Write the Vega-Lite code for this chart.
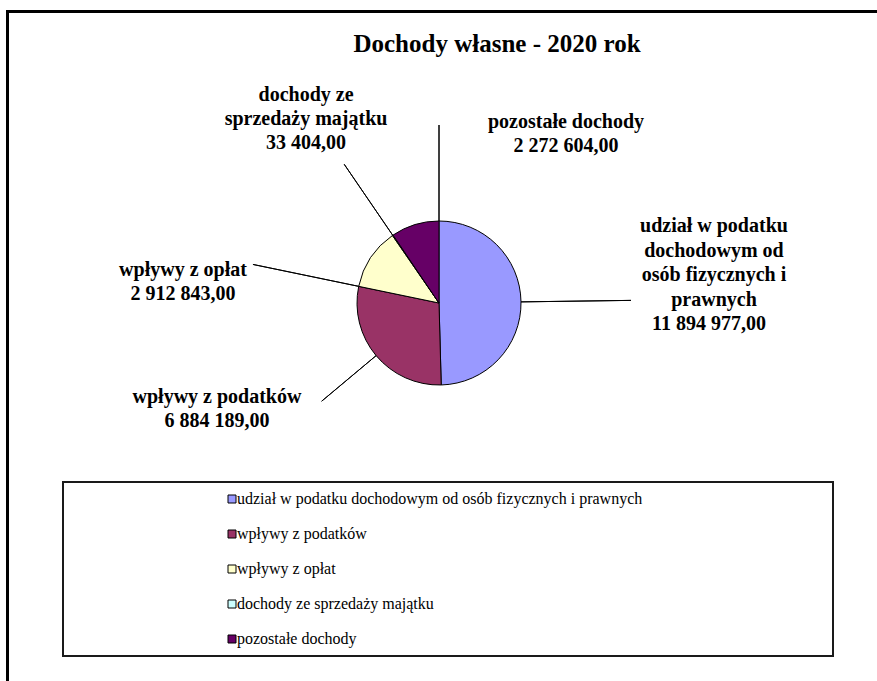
{
  "$schema": "https://vega.github.io/schema/vega-lite/v6.json",
  "width": 870,
  "height": 670,
  "autosize": {"type": "none"},
  "padding": {"left": 7, "top": 11, "right": 0, "bottom": 0},
  "background": "white",
  "title": {
    "text": "Dochody własne - 2020 rok",
    "font": "Liberation Serif",
    "fontSize": 25,
    "fontWeight": "bold",
    "color": "#000",
    "anchor": "middle",
    "frame": "group",
    "baseline": "alphabetic",
    "offset": 0,
    "dx": 55,
    "dy": 66
  },
  "data": {
    "values": [
      {"category": "udział w podatku dochodowym od osób fizycznych i prawnych", "label": "udział w podatku\ndochodowym od\nosób fizycznych i\nprawnych", "value": 11894977},
      {"category": "wpływy z podatków", "label": "wpływy z podatków", "value": 6884189},
      {"category": "wpływy z opłat", "label": "wpływy z opłat", "value": 2912843},
      {"category": "dochody ze sprzedaży majątku", "label": "dochody ze\nsprzedaży majątku", "value": 33404},
      {"category": "pozostałe dochody", "label": "pozostałe dochody", "value": 2272604}
    ]
  },
  "transform": [{"stack": "value", "groupby": [], "as": ["v0", "v1"]}],
  "encoding": {
    "x": {
      "datum": 0, "type": "quantitative",
      "scale": {"domain": [-432, 438], "nice": false, "zero": false},
      "axis": {"orient": "top", "domain": true, "domainColor": "#000", "domainWidth": 3, "domainCap": "square", "ticks": false, "labels": false, "grid": false, "title": null}
    },
    "y": {
      "datum": 0, "type": "quantitative",
      "scale": {"domain": [-378, 292], "nice": false, "zero": false},
      "axis": {"orient": "left", "domain": true, "domainColor": "#000", "domainWidth": 3, "domainCap": "square", "ticks": false, "labels": false, "grid": false, "title": null}
    }
  },
  "layer": [
    {
      "mark": {"type": "arc", "outerRadius": 82, "stroke": "#000", "strokeWidth": 1},
      "encoding": {
        "theta": {"field": "v0", "type": "quantitative", "stack": null, "scale": {"zero": true}},
        "theta2": {"field": "v1"},
        "color": {
          "field": "category", "type": "nominal",
          "scale": {
            "domain": ["udział w podatku dochodowym od osób fizycznych i prawnych", "wpływy z podatków", "wpływy z opłat", "dochody ze sprzedaży majątku", "pozostałe dochody"],
            "range": ["#9999FF", "#993366", "#FFFFCC", "#CCFFFF", "#660066"]
          },
          "legend": {
            "orient": "none", "legendX": 56, "legendY": 471,
            "title": " ", "titleOrient": "right", "titlePadding": 182, "titleFontSize": 16,
            "padding": 9, "strokeColor": "#1a1a1a",
            "symbolType": "square", "symbolSize": 64, "symbolStrokeColor": "#000", "symbolStrokeWidth": 1, "symbolOpacity": 1,
            "symbolOffset": 152, "labelOffset": -3,
            "labelFont": "Liberation Serif", "labelFontSize": 16, "labelColor": "#000", "labelLimit": 800,
            "rowPadding": 19
          }
        }
      }
    },
    {
      "transform": [{"filter": {"field": "category", "equal": "udział w podatku dochodowym od osób fizycznych i prawnych"}}],
      "layer": [
        {
          "mark": {"type": "arc", "innerRadius": 82, "outerRadius": 192, "padAngle": 3.1416, "fillOpacity": 0, "stroke": "#000", "strokeWidth": 1},
          "encoding": {"theta": {"field": "v0", "type": "quantitative", "stack": null}, "theta2": {"field": "v1"}}
        },
        {
          "transform": [
            {"fold": ["v0", "v1"], "as": ["edge", "angle"]},
            {"aggregate": [{"op": "mean", "field": "angle", "as": "mid"}], "groupby": ["category", "label", "value"]}
          ],
          "encoding": {"theta": {"field": "mid", "type": "quantitative", "stack": null}},
          "layer": [
            {"mark": {"type": "text", "radius": 192, "dx": 83, "dy": -84, "align": "center", "baseline": "top", "lineBreak": "\n", "lineHeight": 24.5, "font": "Liberation Serif", "fontSize": 20, "fontWeight": "bold", "color": "#000"},
             "encoding": {"text": {"field": "label"}}},
            {"mark": {"type": "text", "radius": 192, "dx": 78, "dy": 29.5, "align": "center", "baseline": "alphabetic", "font": "Liberation Serif", "fontSize": 20, "fontWeight": "bold", "color": "#000"},
             "encoding": {"text": {"field": "value", "type": "quantitative", "format": ",.2f"}}}
          ]
        }
      ]
    },
    {
      "transform": [{"filter": {"field": "category", "equal": "wpływy z podatków"}}],
      "layer": [
        {
          "mark": {"type": "arc", "innerRadius": 82, "outerRadius": 153, "padAngle": 3.1416, "fillOpacity": 0, "stroke": "#000", "strokeWidth": 1},
          "encoding": {"theta": {"field": "v0", "type": "quantitative", "stack": null}, "theta2": {"field": "v1"}}
        },
        {
          "transform": [
            {"fold": ["v0", "v1"], "as": ["edge", "angle"]},
            {"aggregate": [{"op": "mean", "field": "angle", "as": "mid"}], "groupby": ["category", "label", "value"]}
          ],
          "encoding": {"theta": {"field": "mid", "type": "quantitative", "stack": null}},
          "layer": [
            {"mark": {"type": "text", "radius": 153, "dx": -104.7, "dy": 1.8, "align": "center", "baseline": "alphabetic", "font": "Liberation Serif", "fontSize": 20, "fontWeight": "bold", "color": "#000"},
             "encoding": {"text": {"field": "label"}}},
            {"mark": {"type": "text", "radius": 153, "dx": -104.7, "dy": 25.8, "align": "center", "baseline": "alphabetic", "font": "Liberation Serif", "fontSize": 20, "fontWeight": "bold", "color": "#000"},
             "encoding": {"text": {"field": "value", "type": "quantitative", "format": ",.2f"}}}
          ]
        }
      ]
    },
    {
      "transform": [{"filter": {"field": "category", "equal": "wpływy z opłat"}}],
      "encoding": {"theta": {"field": "v0", "type": "quantitative", "stack": null}},
      "layer": [
        {
          "mark": {"type": "arc", "innerRadius": 82, "outerRadius": 190, "fillOpacity": 0, "stroke": "#000", "strokeWidth": 1},
          "encoding": {"theta2": {"field": "v0"}}
        },
        {"mark": {"type": "text", "radius": 190, "dx": -70, "dy": 11.6, "align": "center", "baseline": "alphabetic", "font": "Liberation Serif", "fontSize": 20, "fontWeight": "bold", "color": "#000"},
         "encoding": {"text": {"field": "label"}}},
        {"mark": {"type": "text", "radius": 190, "dx": -70, "dy": 36, "align": "center", "baseline": "alphabetic", "font": "Liberation Serif", "fontSize": 20, "fontWeight": "bold", "color": "#000"},
         "encoding": {"text": {"field": "value", "type": "quantitative", "format": ",.2f"}}}
      ]
    },
    {
      "transform": [{"filter": {"field": "category", "equal": "dochody ze sprzedaży majątku"}}],
      "layer": [
        {
          "mark": {"type": "arc", "innerRadius": 82, "outerRadius": 168, "padAngle": 3.1416, "fillOpacity": 0, "stroke": "#000", "strokeWidth": 1},
          "encoding": {"theta": {"field": "v0", "type": "quantitative", "stack": null}, "theta2": {"field": "v1"}}
        },
        {
          "transform": [
            {"fold": ["v0", "v1"], "as": ["edge", "angle"]},
            {"aggregate": [{"op": "mean", "field": "angle", "as": "mid"}], "groupby": ["category", "label", "value"]}
          ],
          "encoding": {"theta": {"field": "mid", "type": "quantitative", "stack": null}},
          "layer": [
            {"mark": {"type": "text", "radius": 168, "dx": -38.2, "dy": -79, "align": "center", "baseline": "top", "lineBreak": "\n", "lineHeight": 24, "font": "Liberation Serif", "fontSize": 20, "fontWeight": "bold", "color": "#000"},
             "encoding": {"text": {"field": "label"}}},
            {"mark": {"type": "text", "radius": 168, "dx": -38.2, "dy": -15.5, "align": "center", "baseline": "alphabetic", "font": "Liberation Serif", "fontSize": 20, "fontWeight": "bold", "color": "#000"},
             "encoding": {"text": {"field": "value", "type": "quantitative", "format": ",.2f"}}}
          ]
        }
      ]
    },
    {
      "transform": [{"filter": {"field": "category", "equal": "pozostałe dochody"}}],
      "encoding": {"theta": {"field": "v1", "type": "quantitative", "stack": null}},
      "layer": [
        {
          "mark": {"type": "arc", "innerRadius": 82, "outerRadius": 178, "fillOpacity": 0, "stroke": "#000", "strokeWidth": 1},
          "encoding": {"theta2": {"field": "v1"}}
        },
        {"mark": {"type": "text", "radius": 178, "dx": 127, "dy": 3, "align": "center", "baseline": "alphabetic", "font": "Liberation Serif", "fontSize": 20, "fontWeight": "bold", "color": "#000"},
         "encoding": {"text": {"field": "label"}}},
        {"mark": {"type": "text", "radius": 178, "dx": 127, "dy": 27, "align": "center", "baseline": "alphabetic", "font": "Liberation Serif", "fontSize": 20, "fontWeight": "bold", "color": "#000"},
         "encoding": {"text": {"field": "value", "type": "quantitative", "format": ",.2f"}}}
      ]
    }
  ],
  "config": {
    "view": {"stroke": null},
    "legend": {"strokeWidth": 2},
    "locale": {"number": {"decimal": ",", "thousands": "\u00a0", "grouping": [3], "currency": ["", "\u00a0zł"]}}
  }
}
